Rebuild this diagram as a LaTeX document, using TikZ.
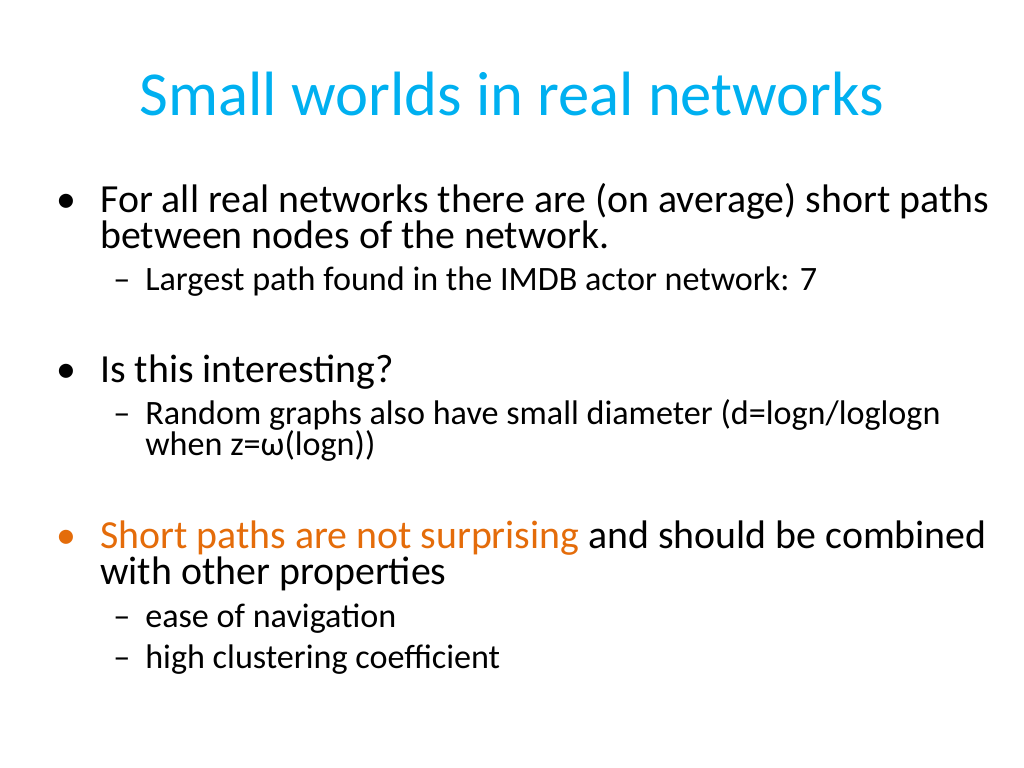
\documentclass[tikz,border=0pt]{standalone}
\usepackage{fontspec}
\setmainfont{Carlito}
\definecolor{ttl}{HTML}{00B0F0}
\definecolor{org}{HTML}{E46C0A}
\begin{document}
\begin{tikzpicture}[x=0.703pt,y=-0.703pt,
  big/.style={anchor=base west,inner sep=0,font=\fontsize{28}{32}\selectfont},
  sml/.style={anchor=base west,inner sep=0,font=\fontsize{24}{28}\selectfont}]
\useasboundingbox (0,0) rectangle (1024,768);
\node[anchor=base,inner sep=0,text=ttl,font=\fontsize{44}{50}\selectfont] (t) at (512,115) {Small worlds in real networks};
\node[big] (b1) at (56,212) {•};
\node[big] (l1) at (100,212) {For all real networks there are (on average) short paths};
\node[big] (l2) at (100,248) {between nodes of the network.};
\node[sml] (d1) at (113,290) {–};
\node[sml] (s1) at (145,290) {Largest path found in the IMDB actor network: 7};
\node[big] (b2) at (56,382) {•};
\node[big] (l3) at (100,382) {Is this interesting?};
\node[sml] (d2) at (113,424) {–};
\node[sml] (s2) at (145,424) {Random graphs also have small diameter (d=logn/loglogn};
\node[sml] (s3) at (145,455) {when z=ω(logn))};
\node[big,text=org] (b3) at (56,548) {•};
\node[big] (l4) at (100,548) {\textcolor{org}{Short paths are not surprising} and should be combined};
\node[big] (l5) at (100,584) {with other properties};
\node[sml] (d3) at (113,627) {–};
\node[sml] (s4) at (145,627) {ease of navigation};
\node[sml] (d4) at (113,668) {–};
\node[sml] (s5) at (145,668) {high clustering coefficient};
\end{tikzpicture}
\end{document}
